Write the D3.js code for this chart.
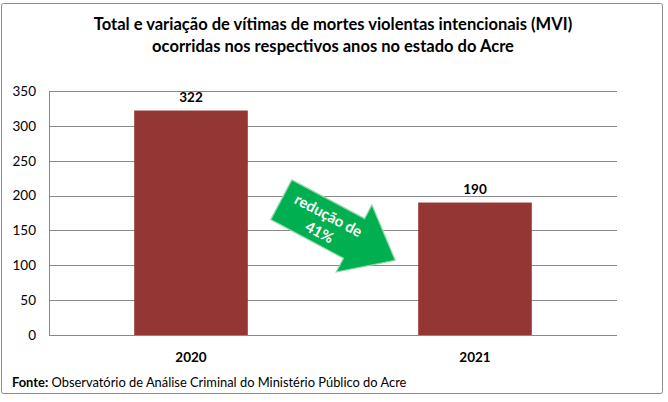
<!DOCTYPE html>
<html>
<head>
<meta charset="utf-8">
<script src="https://cdn.jsdelivr.net/npm/d3@7"></script>
<style>
  html, body { margin: 0; padding: 0; background: #fff; }
  svg { display: block; font-family: Lato, "Open Sans", sans-serif; }
</style>
</head>
<body>
<svg id="chart" width="668" height="402"></svg>
<script>
const titleLines = ["Total e variação de vítimas de mortes violentas intencionais (MVI)",
                    "ocorridas nos respectivos anos no estado do Acre"];
const categories = ["2020", "2021"];
const values = [322, 190];
const yTicks = [0, 50, 100, 150, 200, 250, 300, 350];
const annotationLines = ["redução de", "41%"];
const sourceBold = "Fonte:";
const sourceText = " Observatório de Análise Criminal do Ministério Público do Acre";

const W = 668, H = 402;
const margin = { left: 49, right: 51, top: 91, bottom: 67 };
const svg = d3.select("#chart");

// outer frame
svg.append("rect").attr("x", 1.5).attr("y", 3.5).attr("width", 661).attr("height", 390)
  .attr("rx", 2).attr("fill", "#fff").attr("stroke", "#8c8c8c").attr("stroke-width", 1);

const x = d3.scaleBand().domain(categories)
  .range([margin.left, W - margin.right]).paddingInner(0.6).paddingOuter(0.3);
const y = d3.scaleLinear().domain([0, 350]).range([H - margin.bottom, margin.top]);

function fitWidth(sel, target) {
  const node = sel.node();
  const len = node.getComputedTextLength();
  const fs = parseFloat(sel.attr("font-size"));
  sel.attr("font-size", (fs * target / len).toFixed(2));
}

// title
const cx = (margin.left + W - margin.right) / 2;
const t1 = svg.append("text").attr("x", cx).attr("y", 30).attr("text-anchor", "middle")
  .attr("font-weight", "bold").attr("font-size", 16).attr("fill", "#000").text(titleLines[0]);
fitWidth(t1, 479);
const t2 = svg.append("text").attr("x", cx).attr("y", 52).attr("text-anchor", "middle")
  .attr("font-weight", "bold").attr("font-size", 16).attr("fill", "#000").text(titleLines[1]);
t2.attr("font-size", t1.attr("font-size"));

// gridlines
svg.append("g").selectAll("line").data(yTicks).join("line")
  .attr("x1", margin.left).attr("x2", W - margin.right)
  .attr("y1", d => Math.round(y(d)) + 0.5).attr("y2", d => Math.round(y(d)) + 0.5)
  .attr("stroke", "#8a8a8a").attr("stroke-width", 1);

// y axis line
svg.append("line").attr("x1", margin.left + 0.5).attr("x2", margin.left + 0.5)
  .attr("y1", y(350)).attr("y2", y(0)).attr("stroke", "#8a8a8a");

// y axis labels
const yAxis = d3.axisLeft(y).tickValues(yTicks).tickSize(0).tickPadding(13);
const gy = svg.append("g").attr("transform", `translate(${margin.left},0)`).call(yAxis);
gy.select(".domain").remove();
gy.selectAll("text").attr("font-size", 13.5).attr("font-family", "Lato, sans-serif").attr("fill", "#000");

// bars
svg.append("g").selectAll("rect").data(values).join("rect")
  .attr("x", (d, i) => x(categories[i]))
  .attr("y", d => y(d))
  .attr("width", x.bandwidth())
  .attr("height", d => y(0) - y(d))
  .attr("fill", "#943634");

// value labels
svg.append("g").selectAll("text").data(values).join("text")
  .attr("x", (d, i) => x(categories[i]) + x.bandwidth() / 2)
  .attr("y", d => y(d) - 9)
  .attr("text-anchor", "middle").attr("font-weight", "bold").attr("font-size", 13.5)
  .text(d => d);

// x axis labels
const xAxis = d3.axisBottom(x).tickSize(0).tickPadding(17);
const gx = svg.append("g").attr("transform", `translate(0,${y(0)})`).call(xAxis);
gx.select(".domain").remove();
gx.selectAll("text").attr("font-size", 13.5).attr("font-weight", "bold")
  .attr("font-family", "Lato, sans-serif").attr("fill", "#000");

// annotation arrow between bars
const tailX = x(categories[0]) + x.bandwidth() + 33.5;
const tailY = y(194);
const L = 129, headLen = 46.6, shaftHalf = 22.5, headHalf = 38;
const arrowPts = [
  [0, -shaftHalf], [L - headLen, -shaftHalf], [L - headLen, -headHalf], [L, 0],
  [L - headLen, headHalf], [L - headLen, shaftHalf], [0, shaftHalf]
];
const ga = svg.append("g").attr("transform", `translate(${tailX},${tailY}) rotate(28)`);
ga.append("path").attr("d", d3.line()(arrowPts) + "Z")
  .attr("fill", "#00b050").attr("stroke", "#8fd8a8").attr("stroke-width", 1.2)
  .attr("stroke-linejoin", "miter");
ga.selectAll("text").data(annotationLines).join("text")
  .attr("x", 49).attr("y", (d, i) => -3 + i * 19)
  .attr("text-anchor", "middle").attr("font-weight", "bold").attr("font-size", 15)
  .attr("fill", "#fff").text(d => d);

// source
const src = svg.append("text").attr("x", 12).attr("y", 387).attr("font-size", 13).attr("fill", "#000");
src.append("tspan").attr("font-weight", "bold").text(sourceBold);
src.append("tspan").text(sourceText);
fitWidth(src, 395);
</script>
</body>
</html>
